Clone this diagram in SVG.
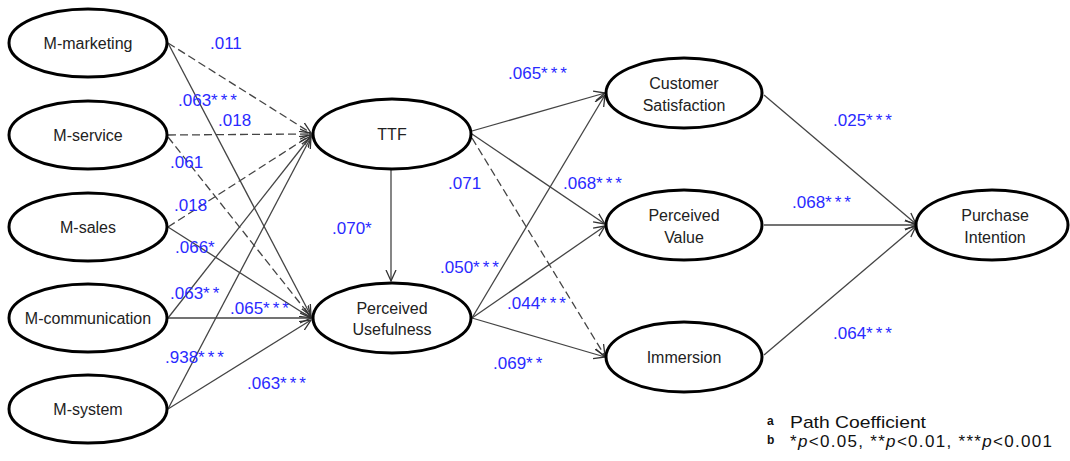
<svg xmlns="http://www.w3.org/2000/svg" width="1070" height="461" viewBox="0 0 1070 461">
<defs>
<marker id="arr" markerUnits="userSpaceOnUse" markerWidth="14" markerHeight="14" refX="11" refY="6" orient="auto">
<path d="M0,1 L11,6 L0,11" fill="none" stroke="#333" stroke-width="1.3"/>
</marker>
<style>
.node ellipse{fill:#fff;stroke:#000;stroke-width:3}
.node text{font-family:"Liberation Sans",Arial,sans-serif;font-size:16px;fill:#222;text-anchor:middle}
.c{stroke:#444;stroke-width:1.3;fill:none;marker-end:url(#arr)}
.d{stroke-dasharray:8,4}
.lb{font-family:"Liberation Sans",Arial,sans-serif;font-size:17px;fill:#2a2aff}
.s{letter-spacing:3px}
.lg{font-family:"Liberation Sans",Arial,sans-serif;font-size:17px;fill:#111}
.sup{font-family:"Liberation Sans",Arial,sans-serif;font-size:12px;font-weight:bold;fill:#111}
</style>
</defs>
<rect width="1070" height="461" fill="#fff"/>
<g id="connectors">
<line class="c d" x1="168" y1="43" x2="311" y2="133"/>
<line class="c" x1="168" y1="43" x2="311" y2="316"/>
<line class="c d" x1="168" y1="135" x2="311" y2="134"/>
<line class="c d" x1="168" y1="137" x2="311" y2="317"/>
<line class="c d" x1="168" y1="227" x2="311" y2="135"/>
<line class="c" x1="168" y1="227" x2="311" y2="318"/>
<line class="c" x1="168" y1="318" x2="311" y2="136"/>
<line class="c" x1="168" y1="318" x2="311" y2="318"/>
<line class="c" x1="168" y1="409" x2="311" y2="137"/>
<line class="c" x1="168" y1="409" x2="311" y2="320"/>
<line class="c" x1="391" y1="170" x2="391" y2="281"/>
<line class="c" x1="472" y1="131" x2="605" y2="93"/>
<line class="c" x1="472" y1="134" x2="605" y2="224"/>
<line class="c d" x1="472" y1="138" x2="605" y2="356"/>
<line class="c" x1="472" y1="318" x2="605" y2="95"/>
<line class="c" x1="472" y1="318" x2="605" y2="226"/>
<line class="c" x1="472" y1="318" x2="605" y2="357"/>
<line class="c" x1="764" y1="95" x2="916" y2="224"/>
<line class="c" x1="764" y1="225" x2="916" y2="225"/>
<line class="c" x1="764" y1="355" x2="916" y2="226"/>
</g>
<g id="labels">
<text class="lb" x="210" y="49">.011</text>
<text class="lb" x="178" y="106">.063<tspan class="s">***</tspan></text>
<text class="lb" x="218" y="126">.018</text>
<text class="lb" x="170" y="168">.061</text>
<text class="lb" x="174" y="211">.018</text>
<text class="lb" x="175" y="253">.066<tspan class="s">*</tspan></text>
<text class="lb" x="170" y="299">.063<tspan class="s">**</tspan></text>
<text class="lb" x="230" y="314">.065<tspan class="s">***</tspan></text>
<text class="lb" x="165" y="363">.938<tspan class="s">***</tspan></text>
<text class="lb" x="247" y="389">.063<tspan class="s">***</tspan></text>
<text class="lb" x="508" y="79">.065<tspan class="s">***</tspan></text>
<text class="lb" x="448" y="189">.071</text>
<text class="lb" x="563" y="189">.068<tspan class="s">***</tspan></text>
<text class="lb" x="332" y="234">.070<tspan class="s">*</tspan></text>
<text class="lb" x="440" y="273">.050<tspan class="s">***</tspan></text>
<text class="lb" x="507" y="309">.044<tspan class="s">***</tspan></text>
<text class="lb" x="493" y="369">.069<tspan class="s">**</tspan></text>
<text class="lb" x="833" y="126">.025<tspan class="s">***</tspan></text>
<text class="lb" x="792" y="208">.068<tspan class="s">***</tspan></text>
<text class="lb" x="833" y="339">.064<tspan class="s">***</tspan></text>
</g>
<g id="m-marketing" class="node"><ellipse cx="88" cy="43" rx="79" ry="34"/><text x="88" y="49">M-marketing</text></g>
<g id="m-service" class="node"><ellipse cx="88" cy="135" rx="79" ry="34"/><text x="88" y="141">M-service</text></g>
<g id="m-sales" class="node"><ellipse cx="88" cy="227" rx="79" ry="34"/><text x="88" y="233">M-sales</text></g>
<g id="m-communication" class="node"><ellipse cx="88" cy="318" rx="79" ry="34"/><text x="88" y="324">M-communication</text></g>
<g id="m-system" class="node"><ellipse cx="88" cy="409" rx="79" ry="34"/><text x="88" y="415">M-system</text></g>
<g id="ttf" class="node"><ellipse cx="392" cy="134" rx="79" ry="35"/><text x="392" y="140">TTF</text></g>
<g id="perceived-usefulness" class="node"><ellipse cx="392" cy="318" rx="79" ry="35"/><text x="392" y="314">Perceived</text><text x="392" y="335">Usefulness</text></g>
<g id="customer-satisfaction" class="node"><ellipse cx="684" cy="93" rx="78" ry="35"/><text x="684" y="89">Customer</text><text x="684" y="111">Satisfaction</text></g>
<g id="perceived-value" class="node"><ellipse cx="684" cy="225" rx="78" ry="35"/><text x="684" y="221">Perceived</text><text x="684" y="243">Value</text></g>
<g id="immersion" class="node"><ellipse cx="684" cy="357" rx="78" ry="35"/><text x="684" y="363">Immersion</text></g>
<g id="purchase-intention" class="node"><ellipse cx="992" cy="225" rx="76" ry="35"/><text x="995" y="221">Purchase</text><text x="995" y="243">Intention</text></g>
<g id="legend">
<text class="sup" x="767" y="425">a</text>
<text class="lg" x="790" y="428" textLength="136" lengthAdjust="spacingAndGlyphs">Path Coefficient</text>
<text class="sup" x="767" y="444">b</text>
<text class="lg" x="790" y="447" textLength="262" lengthAdjust="spacing">*<tspan font-style="italic">p</tspan>&lt;0.05, **<tspan font-style="italic">p</tspan>&lt;0.01, ***<tspan font-style="italic">p</tspan>&lt;0.001</text>
</g>
</svg>
